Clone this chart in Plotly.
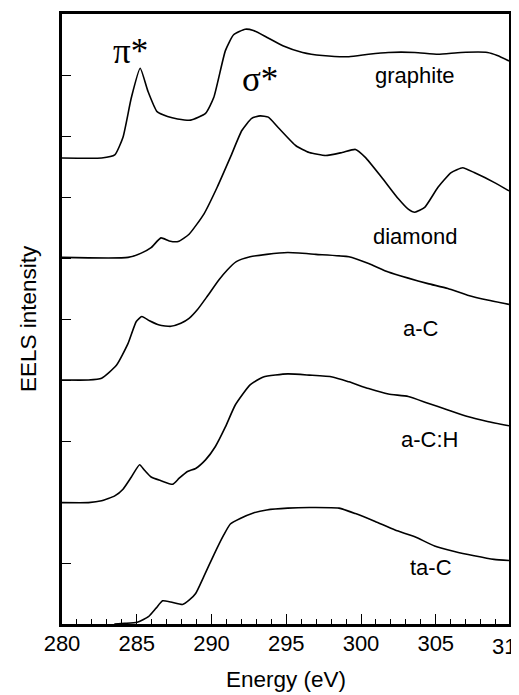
import plotly.graph_objects as go

# ---- data (energy in eV, intensity in stacked arbitrary units) ----
graphite_e = [280.0, 282.65, 283.53, 284.08, 284.64, 285.23, 285.74, 286.36, 287.06, 287.73,
              288.61, 289.60, 290.15, 290.93, 291.48, 292.25, 292.80, 293.69, 294.77, 296.09,
              297.42, 299.19, 300.51, 301.83, 303.60, 305.15, 306.69, 308.46, 309.12, 309.9]
graphite_i = [7.64, 7.64, 7.69, 7.98, 8.63, 9.11, 8.74, 8.40, 8.32, 8.28,
              8.26, 8.37, 8.63, 9.40, 9.66, 9.75, 9.73, 9.62, 9.48, 9.37,
              9.32, 9.30, 9.34, 9.37, 9.37, 9.34, 9.37, 9.37, 9.32, 9.23]

diamond_e = [280.0, 284.42, 285.30, 285.96, 286.62, 287.17, 287.77, 288.50, 289.49, 290.38,
             291.26, 292.03, 292.69, 293.25, 293.80, 294.46, 295.65, 296.54, 297.64, 298.74,
             299.63, 300.29, 301.39, 302.50, 303.16, 303.60, 304.26, 305.15, 306.03, 306.80,
             307.57, 308.90, 309.9]
diamond_i = [6.01, 6.01, 6.08, 6.17, 6.33, 6.28, 6.27, 6.39, 6.72, 7.16,
             7.65, 8.09, 8.29, 8.33, 8.31, 8.14, 7.84, 7.73, 7.68, 7.73,
             7.78, 7.65, 7.32, 6.97, 6.80, 6.75, 6.83, 7.16, 7.40, 7.48,
             7.40, 7.24, 7.10]

ac_e = [280.0, 281.77, 282.65, 283.64, 284.42, 284.97, 285.34, 285.85, 286.51, 287.28,
        287.95, 288.50, 289.05, 289.71, 290.49, 291.04, 291.66, 292.58, 293.69, 295.10,
        296.98, 299.19, 300.51, 301.83, 303.16, 304.48, 305.81, 307.13, 308.46, 309.9]
ac_i = [4.00, 4.00, 4.03, 4.24, 4.60, 4.96, 5.04, 4.97, 4.90, 4.88,
        4.93, 5.01, 5.15, 5.37, 5.64, 5.80, 5.94, 6.02, 6.06, 6.09,
        6.06, 6.02, 5.91, 5.77, 5.67, 5.58, 5.50, 5.39, 5.31, 5.24]

ach_e = [280.0, 281.77, 282.65, 283.53, 284.08, 284.64, 285.19, 285.52, 285.96, 286.62,
         287.40, 287.84, 288.39, 288.94, 289.60, 290.26, 290.93, 291.59, 292.58, 293.47,
         295.10, 296.54, 298.08, 299.19, 300.51, 301.83, 303.16, 304.48, 305.81, 307.13,
         308.46, 309.9]
ach_i = [1.99, 1.99, 2.02, 2.10, 2.21, 2.41, 2.61, 2.52, 2.41, 2.35,
         2.29, 2.39, 2.50, 2.55, 2.69, 2.91, 3.23, 3.59, 3.92, 4.05,
         4.10, 4.08, 4.05, 3.97, 3.86, 3.77, 3.73, 3.62, 3.51, 3.40,
         3.32, 3.25]

tac_e = [283.5, 284.19, 285.03, 285.78, 286.29, 286.73, 287.28, 288.06, 288.50, 288.94,
         289.49, 290.15, 290.82, 291.26, 291.92, 292.80, 293.69, 295.10, 296.54, 298.52,
         299.63, 300.95, 302.28, 303.60, 304.92, 306.25, 307.57, 308.90, 309.9]
tac_i = [0.0, 0.01, 0.03, 0.12, 0.26, 0.38, 0.36, 0.32, 0.39, 0.50,
         0.78, 1.13, 1.46, 1.64, 1.73, 1.82, 1.87, 1.90, 1.91, 1.90,
         1.81, 1.68, 1.54, 1.43, 1.28, 1.19, 1.12, 1.06, 1.04]

spectra = [
    ("graphite", graphite_e, graphite_i),
    ("diamond", diamond_e, diamond_i),
    ("a-C", ac_e, ac_i),
    ("a-C:H", ach_e, ach_i),
    ("ta-C", tac_e, tac_i),
]

# curve labels: (text, energy, intensity)
label_text = ["graphite", "diamond", "a-C", "a-C:H", "ta-C"]
label_e = [303.6, 303.6, 304.0, 304.55, 304.7]
label_i = [9.0, 6.36, 4.84, 3.03, 0.93]

peak_text = ["π*", "σ*"]
peak_e = [284.6, 293.25]
peak_i = [9.39, 8.93]

x_tick_vals = [280, 285, 290, 295, 300, 305, 310]
x_range = [280, 309.9]
y_tick_vals = list(range(0, 11))

x_title = "Energy (eV)"
y_title = "EELS intensity"

SANS = "Liberation Sans, Arial, Helvetica, sans-serif"
SERIF = "Liberation Serif, Times New Roman, serif"

fig = go.Figure()
for name, e, i in spectra:
    fig.add_trace(go.Scatter(x=e, y=i, mode="lines", name=name,
                             line=dict(color="black", width=1.6, shape="spline", smoothing=0.5),
                             showlegend=False, hoverinfo="skip"))

for t, e, i in zip(label_text, label_e, label_i):
    fig.add_annotation(x=e, y=i, text=t, showarrow=False,
                       font=dict(family=SANS, size=22, color="black"))

for t, e, i in zip(peak_text, peak_e, peak_i):
    fig.add_annotation(x=e, y=i, text=t, showarrow=False,
                       font=dict(family=SERIF, size=35, color="black"))

# the last tick label (310) sits just outside the frame, partly cut by the page edge
last = x_tick_vals[-1]
fig.add_annotation(xref="paper", yref="paper",
                   x=(last - x_range[0]) / (x_range[1] - x_range[0]), y=0,
                   xanchor="center", yanchor="middle",
                   yshift=-22, text=str(last), showarrow=False,
                   font=dict(family=SANS, size=22, color="black"))

# axis titles
fig.add_annotation(xref="paper", yref="paper", x=0.5, y=0, xanchor="center", yanchor="middle",
                   yshift=-55, text=x_title, showarrow=False,
                   font=dict(family=SANS, size=22.5, color="black"))
fig.add_annotation(xref="paper", yref="paper", x=0, y=0.5, xanchor="center", yanchor="middle",
                   xshift=-34, textangle=-90, text=y_title, showarrow=False,
                   font=dict(family=SANS, size=22.5, color="black"))

fig.update_xaxes(range=x_range, tickvals=x_tick_vals[:-1], ticks="inside", ticklen=10,
                 tickwidth=1.3, tickcolor="black", automargin=False, ticklabelstandoff=-2,
                 minor=dict(dtick=1, ticks="inside", ticklen=5, tickwidth=1.2, tickcolor="black"),
                 showline=True, linecolor="black", linewidth=2.5, mirror=True,
                 showgrid=False, zeroline=False,
                 tickfont=dict(family=SANS, size=22, color="black"))
fig.update_yaxes(range=[0, 10], tickvals=y_tick_vals, ticks="inside", ticklen=9,
                 tickwidth=1.3, tickcolor="black", showticklabels=False, automargin=False,
                 showline=True, linecolor="black", linewidth=2.5, mirror=True,
                 showgrid=False, zeroline=False)

# the page adds an 8 px body margin, so the figure is sized to the rest of the window
fig.update_layout(width=511, height=687, margin=dict(l=54, r=10, t=6, b=71),
                  plot_bgcolor="white", paper_bgcolor="white")

fig.write_html("out.html")
